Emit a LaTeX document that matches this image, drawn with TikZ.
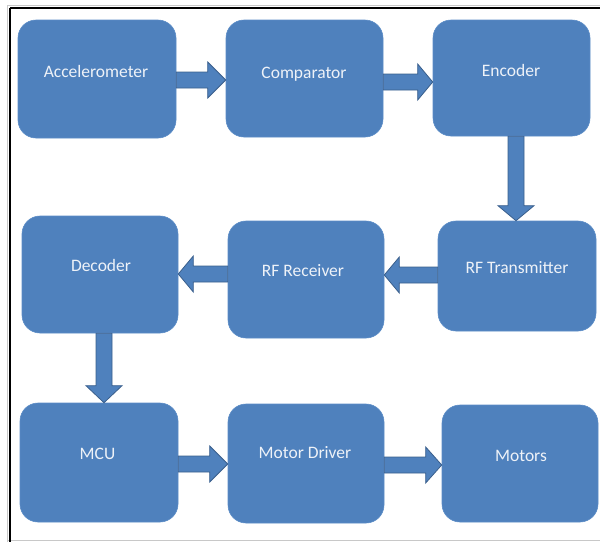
\documentclass[tikz,border=0pt]{standalone}
\usepackage{fontspec}
\setmainfont{Carlito}
\definecolor{boxblue}{HTML}{4F81BD}
\definecolor{boxedge}{HTML}{5B8CC6}
\definecolor{arrowedge}{HTML}{3A5F8C}
\definecolor{txt}{HTML}{EEF2F8}
\definecolor{framegray}{HTML}{C8C8C8}
\tikzset{
  blockbox/.style={rectangle, rounded corners=18pt, fill=boxblue, draw=boxedge, line width=0.6pt, inner sep=0pt},
  blocktext/.style={anchor=base, text=txt, font=\fontsize{17.5}{20}\selectfont, inner sep=0pt},
  barrow/.style={fill=boxblue, draw=arrowedge, line width=0.8pt, line join=miter}
}
\newcommand{\arrowR}[4]{\draw[barrow] (#1.east |- 0,#3-8) -- ([xshift=-#4pt]#2.west |- 0,#3-8) -- ([xshift=-#4pt]#2.west |- 0,#3-18) -- (#2.west |- 0,#3) -- ([xshift=-#4pt]#2.west |- 0,#3+18) -- ([xshift=-#4pt]#2.west |- 0,#3+8) -- (#1.east |- 0,#3+8) -- cycle;}
\newcommand{\arrowL}[4]{\draw[barrow] (#1.west |- 0,#3-8) -- ([xshift=#4pt]#2.east |- 0,#3-8) -- ([xshift=#4pt]#2.east |- 0,#3-18) -- (#2.east |- 0,#3) -- ([xshift=#4pt]#2.east |- 0,#3+18) -- ([xshift=#4pt]#2.east |- 0,#3+8) -- (#1.west |- 0,#3+8) -- cycle;}
\newcommand{\arrowD}[4]{\draw[barrow] (#3-8,0 |- #1.south) -- ([yshift=#4pt]#3-8,0 |- #2.north) -- ([yshift=#4pt]#3-18,0 |- #2.north) -- (#3,0 |- #2.north) -- ([yshift=#4pt]#3+18,0 |- #2.north) -- ([yshift=#4pt]#3+8,0 |- #2.north) -- (#3+8,0 |- #1.south) -- cycle;}
\begin{document}
\begin{tikzpicture}[x=1pt,y=-1pt]
\useasboundingbox (0,0) rectangle (600,542);
% frame
\draw[framegray, line width=0.8pt] (7,5) -- (600,5);
\draw[framegray, line width=0.8pt] (7,5) -- (7,542);
\draw[framegray, line width=0.8pt] (7,540) -- (600,540);
\draw[black, line width=2pt] (9.5,7.5) -- (600,7.5);
\draw[black, line width=2pt] (9.5,7.5) -- (9.5,542);
% boxes
\node[blockbox, minimum width=158pt, minimum height=118pt] (acc) at (97,79) {};
\node[blockbox, minimum width=157pt, minimum height=117pt] (comp) at (304.5,78.5) {};
\node[blockbox, minimum width=157pt, minimum height=116pt] (enc) at (511.5,78) {};
\node[blockbox, minimum width=156pt, minimum height=117pt] (dec) at (100,274.5) {};
\node[blockbox, minimum width=156pt, minimum height=117pt] (rfr) at (306,279.5) {};
\node[blockbox, minimum width=158pt, minimum height=110pt] (rft) at (517,276) {};
\node[blockbox, minimum width=158pt, minimum height=119pt] (mcu) at (99,462.5) {};
\node[blockbox, minimum width=156pt, minimum height=119pt] (md) at (306,463.5) {};
\node[blockbox, minimum width=156pt, minimum height=117pt] (mot) at (520,463.5) {};
% labels
\node[blocktext] (acct) at (96,77) {Accelerometer};
\node[blocktext] (compt) at (304,78) {Comparator};
\node[blocktext] (enct) at (511,76) {Encoder};
\node[blocktext] (dect) at (101,271) {Decoder};
\node[blocktext] (rfrt) at (303,276) {RF Receiver};
\node[blocktext] (rftt) at (517,273) {RF Transmitter};
\node[blocktext] (mcut) at (97.5,459) {MCU};
\node[blocktext] (mdt) at (305,458) {Motor Driver};
\node[blocktext] (mott) at (521,461) {Motors};
% arrows
\arrowR{acc}{comp}{80}{18}
\arrowR{comp}{enc}{82}{15}
\arrowD{enc}{rft}{516}{15}
\arrowL{rft}{rfr}{275}{15}
\arrowL{rfr}{dec}{274}{15}
\arrowD{dec}{mcu}{104}{17}
\arrowR{mcu}{md}{464}{18}
\arrowR{md}{mot}{465}{16}
\end{tikzpicture}
\end{document}
